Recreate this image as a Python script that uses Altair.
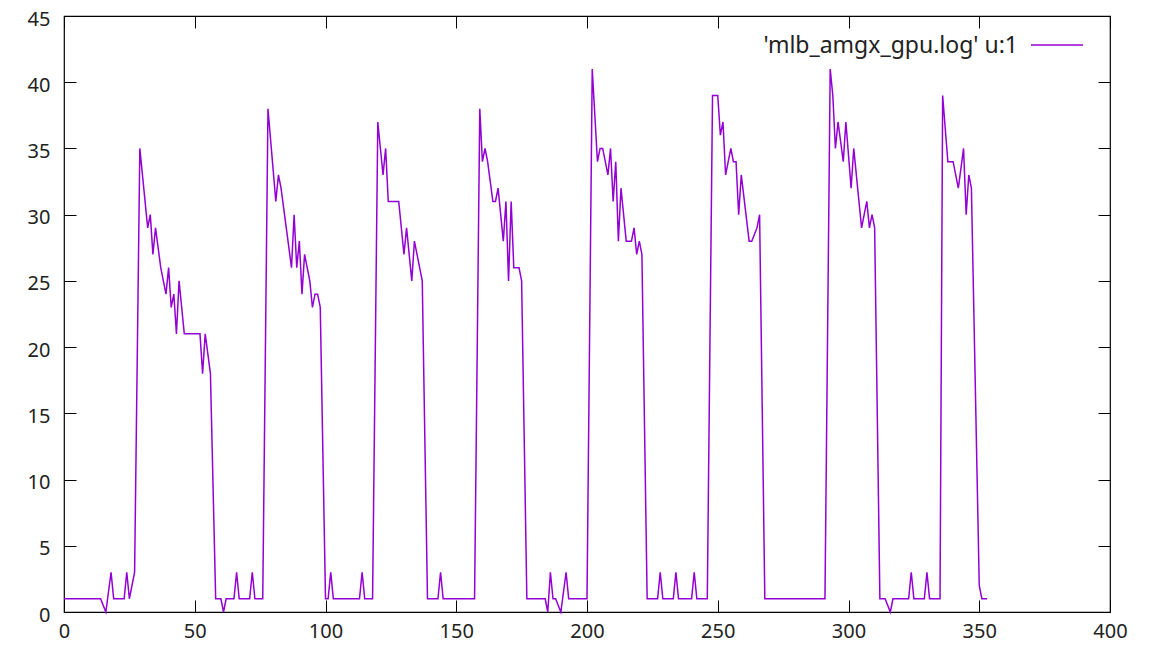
import altair as alt
import pandas as pd

# ---- data (vertices) ----
xs = [0, 14, 16, 18, 19, 23, 24, 25, 27,
      29, 32, 33, 34, 35, 37, 39, 40, 41, 42, 43, 44, 46, 52, 53, 54, 56, 58,
      60, 61, 62, 65, 66, 67, 71, 72, 73, 76,
      78, 81, 82, 83, 85, 87, 88, 89, 90, 91, 92, 94, 95, 96, 97, 98, 100,
      101, 102, 103, 113, 114, 115, 118,
      120, 122, 123, 124, 128, 130, 131, 133, 134, 137, 139,
      143, 144, 145, 157,
      159, 160, 161, 162, 164, 165, 166, 168, 169, 170, 171, 172, 174, 175, 177,
      184, 185, 186, 187, 188, 190, 192, 193, 200,
      202, 204, 205, 206, 208, 209, 210, 211, 212, 213, 215, 217, 218, 219, 220, 221, 223,
      227, 228, 229, 233, 234, 235, 240, 241, 242, 246,
      248, 250, 251, 252, 253, 255, 256, 257, 258, 259, 262, 263, 265, 266, 268,
      291,
      293, 294, 295, 296, 298, 299, 301, 302, 305, 307, 308, 309, 310, 312,
      314, 316, 317, 323, 324, 325, 329, 330, 331, 335,
      336, 338, 340, 342, 344, 345, 346, 347, 350, 351, 353]
ys = [1, 1, 0, 3, 1, 1, 3, 1, 3,
      35, 29, 30, 27, 29, 26, 24, 26, 23, 24, 21, 25, 21, 21, 18, 21, 18, 1,
      1, 0, 1, 1, 3, 1, 1, 3, 1, 1,
      38, 31, 33, 32, 29, 26, 30, 26, 28, 24, 27, 25, 23, 24, 24, 23, 1,
      1, 3, 1, 1, 3, 1, 1,
      37, 33, 35, 31, 31, 27, 29, 25, 28, 25, 1,
      1, 3, 1, 1,
      38, 34, 35, 34, 31, 31, 32, 28, 31, 25, 31, 26, 26, 25, 1,
      1, 0, 3, 1, 1, 0, 3, 1, 1,
      41, 34, 35, 35, 33, 35, 31, 34, 28, 32, 28, 28, 29, 27, 28, 27, 1,
      1, 3, 1, 1, 3, 1, 1, 3, 1, 1,
      39, 39, 36, 37, 33, 35, 34, 34, 30, 33, 28, 28, 29, 30, 1,
      1,
      41, 39, 35, 37, 34, 37, 32, 35, 29, 31, 29, 30, 29, 1,
      1, 0, 1, 1, 3, 1, 1, 3, 1, 1,
      39, 34, 34, 32, 35, 30, 33, 32, 2, 1, 1]

x_ticks = [0, 50, 100, 150, 200, 250, 300, 350, 400]
y_ticks = [0, 5, 10, 15, 20, 25, 30, 35, 40, 45]
series_label = "'mlb_amgx_gpu.log' u:1"

COLOR = "#9400d3"
FONT = "Noto Sans"

df = pd.DataFrame({"x": xs, "y": ys})

xscale = alt.Scale(domain=[0, 400], nice=False, zero=False)
yscale = alt.Scale(domain=[0, 45], nice=False, zero=False)

axis_common = dict(grid=False, domain=False, tickSize=12, offset=-12,
                   tickColor="black", tickWidth=1, labelFont=FONT,
                   labelFontSize=20, labelColor="#222", labelFlush=False,
                   labelOverlap=False, title=None)

line = alt.Chart(df).mark_line(color=COLOR, strokeWidth=1.5).encode(
    x=alt.X("x:Q", scale=xscale,
            axis=alt.Axis(values=x_ticks, orient="bottom", labelPadding=9, **axis_common)),
    y=alt.Y("y:Q", scale=yscale,
            axis=alt.Axis(values=y_ticks, orient="left", labelPadding=14,
                          labelOffset=3, **axis_common)),
)

mirror = alt.Chart(df).mark_line(opacity=0).encode(
    x=alt.X("x:Q", scale=xscale,
            axis=alt.Axis(values=x_ticks, orient="top", labels=False, **axis_common)),
    y=alt.Y("y:Q", scale=yscale,
            axis=alt.Axis(values=y_ticks, orient="right", labels=False, **axis_common)),
)

legend_df = pd.DataFrame({"label": [series_label]})
legend_text = alt.Chart(legend_df).mark_text(
    align="right", baseline="middle", font=FONT, fontSize=23, color="#222"
).encode(text="label:N", x=alt.value(954), y=alt.value(30))
legend_line = alt.Chart(legend_df).mark_rule(color=COLOR, strokeWidth=1.5).encode(
    x=alt.value(967), x2=alt.value(1019), y=alt.value(29))

chart = alt.layer(line, mirror, legend_line, legend_text).resolve_axis(
    x="independent", y="independent"
).properties(
    width=1046, height=596,
    padding={"left": 56, "top": 8, "right": 20, "bottom": 35},
    autosize="none",
    background="white",
).configure_view(stroke="black", strokeWidth=1.2)

chart.save("out.html", embed_options={"renderer": "svg", "actions": False})
